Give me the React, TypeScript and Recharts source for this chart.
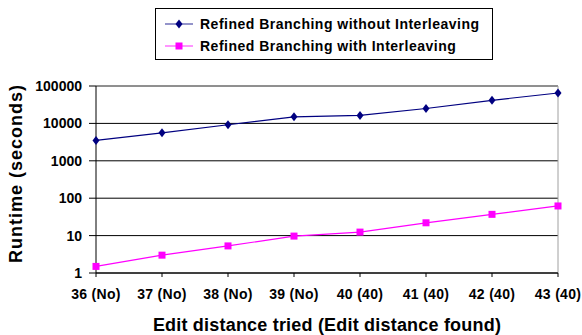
import { LineChart, Line, XAxis, YAxis, CartesianGrid, ReferenceLine, Legend, Label } from "recharts";

// edit distance tried, with the edit distance found in brackets
const categories = ["36 (No)", "37 (No)", "38 (No)", "39 (No)", "40 (40)", "41 (40)", "42 (40)", "43 (40)"];
// runtime in seconds
const withoutInterleaving = [3500, 5600, 9200, 15000, 16300, 25000, 41500, 65000];
const withInterleaving = [1.5, 3.0, 5.3, 9.7, 12.4, 22, 37, 62];
const yTicks = [1, 10, 100, 1000, 10000, 100000];

const seriesNames = ["Refined Branching without Interleaving", "Refined Branching with Interleaving"];
const seriesColors = ["#000080", "#FF00FF"];

const data = categories.map((name, i) => ({
  name,
  without: withoutInterleaving[i],
  with: withInterleaving[i],
}));

const FONT = "'Liberation Sans', Arial, sans-serif";

const Diamond = (props: any) => {
  const { cx, cy, fill } = props;
  if (cx == null || cy == null) return null;
  return <path d={`M${cx},${cy - 4.5}L${cx + 3.5},${cy}L${cx},${cy + 4.5}L${cx - 3.5},${cy}Z`} fill={fill} />;
};

const Square = (props: any) => {
  const { cx, cy, fill } = props;
  if (cx == null || cy == null) return null;
  return <rect x={cx - 3.5} y={cy - 3.5} width={7} height={7} fill={fill} />;
};

const renderLegend = (props: any) => {
  const { payload = [] } = props;
  // keep the series order, not alphabetical
  const items = [...payload].sort((a: any, b: any) => seriesNames.indexOf(a.value) - seriesNames.indexOf(b.value));
  return (
    <div style={{ border: "1px solid #000", background: "#fff", padding: "4px 0 4px 8px", boxSizing: "border-box", height: 52 }}>
      {items.map((entry: any) => (
        <div key={entry.value} style={{ display: "flex", alignItems: "center", height: 22 }}>
          <svg width={34} height={12} style={{ marginRight: 2 }}>
            <line x1={1} y1={6} x2={29} y2={6} stroke={entry.color} strokeOpacity={0.7} strokeWidth={1.2} />
            {entry.dataKey === "without" ? (
              <Diamond cx={15} cy={6} fill={entry.color} />
            ) : (
              <Square cx={15} cy={6} fill={entry.color} />
            )}
          </svg>
          <span style={{ fontFamily: FONT, fontWeight: 700, fontSize: 14, letterSpacing: 0.5, color: "#000" }}>
            {entry.value}
          </span>
        </div>
      ))}
    </div>
  );
};

const YTitle = (props: any) => {
  const { viewBox } = props;
  const cx = 16;
  const cy = viewBox.y + viewBox.height / 2 - 6;
  return (
    <text
      x={cx}
      y={cy}
      transform={`rotate(-90, ${cx}, ${cy})`}
      textAnchor="middle"
      dominantBaseline="central"
      style={{ fill: "#000", fontSize: 18, fontWeight: 700, fontFamily: FONT, letterSpacing: 1 }}
    >
      Runtime (seconds)
    </text>
  );
};

export default function App() {
  return (
    <div style={{ position: "fixed", left: 0, top: 0, width: 582, height: 335, background: "#fff" }}>
      <LineChart width={582} height={335} data={data} margin={{ top: 86, right: 24, bottom: 32, left: 0 }}>
        <CartesianGrid vertical={false} stroke="#000" strokeWidth={1} />
        <XAxis
          dataKey="name"
          axisLine={{ stroke: "#000" }}
          tickLine={{ stroke: "#000" }}
          tickSize={4}
          tickMargin={12}
          height={30}
          interval={0}
          tick={{ fill: "#000", fontSize: 14, fontFamily: FONT, fontWeight: 700, letterSpacing: 0.3 }}
        >
          <Label
            value="Edit distance tried (Edit distance found)"
            position="bottom"
            offset={15}
            style={{ fill: "#000", fontSize: 18, fontWeight: 700, fontFamily: FONT, letterSpacing: 0.2 }}
          />
        </XAxis>
        <YAxis
          scale="log"
          domain={[1, 100000]}
          ticks={yTicks}
          allowDataOverflow
          width={96}
          axisLine={{ stroke: "#000" }}
          tickLine={{ stroke: "#000" }}
          tickSize={7}
          tickMargin={7}
          tick={{ fill: "#000", fontSize: 14, fontFamily: FONT, fontWeight: 700 }}
        >
          <Label content={<YTitle />} />
        </YAxis>
        <ReferenceLine y={100000} stroke="#a0a0a0" />
        <ReferenceLine x={categories[categories.length - 1]} stroke="#a0a0a0" />
        <Legend
          layout="vertical"
          align="center"
          verticalAlign="middle"
          content={renderLegend}
          wrapperStyle={{ left: 155, top: 8, width: 338 }}
        />
        <Line
          dataKey="without"
          name={seriesNames[0]}
          stroke={seriesColors[0]}
          strokeWidth={1.2}
          dot={<Diamond fill={seriesColors[0]} />}
          activeDot={false}
          isAnimationActive={false}
        />
        <Line
          dataKey="with"
          name={seriesNames[1]}
          stroke={seriesColors[1]}
          strokeWidth={1.2}
          dot={<Square fill={seriesColors[1]} />}
          activeDot={false}
          isAnimationActive={false}
        />
      </LineChart>
    </div>
  );
}
